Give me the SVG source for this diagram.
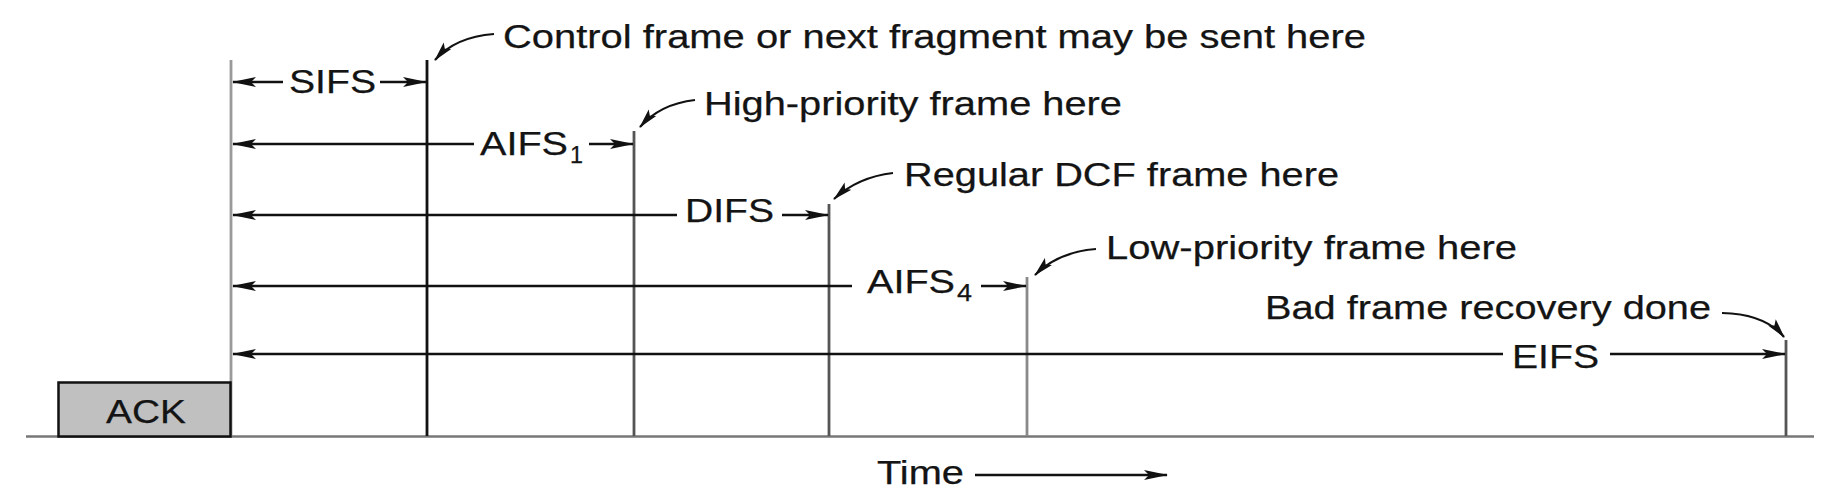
<svg xmlns="http://www.w3.org/2000/svg" width="1834" height="498" viewBox="0 0 1834 498">
  <defs>
    <style>
      .t { font-family: "Liberation Sans", Arial, sans-serif; font-size: 33px; fill: #141414; stroke: #141414; stroke-width: 0.25; }
      .sub { font-size: 23px; }
      .ln { stroke: #111; stroke-width: 2.5; fill: none; }
      .vl { stroke-width: 2.8; fill: none; }
      .co { stroke: #111; stroke-width: 2.2; fill: none; }
    </style>
    <marker id="ah" markerUnits="userSpaceOnUse" markerWidth="24" markerHeight="12" viewBox="0 0 24 12" refX="23" refY="6" orient="auto">
      <path d="M0,1 L24,6 L0,11 L5,6 z" fill="#111"/>
    </marker>
    <marker id="ahs" markerUnits="userSpaceOnUse" markerWidth="20" markerHeight="12" viewBox="0 0 20 12" refX="19" refY="6" orient="auto">
      <path d="M0,1 L20,6 L0,11 L4,6 z" fill="#111"/>
    </marker>
  </defs>
  <rect width="1834" height="498" fill="#fff"/>

  <g id="timeline">
    <line x1="26" y1="436.5" x2="1814" y2="436.5" stroke="#777" stroke-width="2.6"/>
    <line class="vl" x1="231" y1="60" x2="231" y2="436" stroke="#9a9a9a" stroke-width="3.4"/>
    <line class="vl" x1="427" y1="60" x2="427" y2="436" stroke="#111"/>
    <line class="vl" x1="634" y1="131" x2="634" y2="436" stroke="#555"/>
    <line class="vl" x1="829" y1="204" x2="829" y2="436" stroke="#555"/>
    <line class="vl" x1="1027" y1="277" x2="1027" y2="436" stroke="#8a8a8a"/>
    <line class="vl" x1="1786" y1="340" x2="1786" y2="436" stroke="#555"/>
  </g>

  <g id="ack">
    <rect x="58.5" y="382.5" width="172" height="54" fill="#c0c0c0" stroke="#111" stroke-width="2.5"/>
    <text class="t" x="106" y="423" textLength="80" lengthAdjust="spacingAndGlyphs">ACK</text>
  </g>

  <g id="sifs">
    <text class="t" x="289" y="93" textLength="87" lengthAdjust="spacingAndGlyphs">SIFS</text>
  </g>
  <g id="aifs1">
    <text class="t" x="480" y="155"><tspan textLength="88" lengthAdjust="spacingAndGlyphs">AIFS</tspan><tspan class="sub" x="570" y="163" textLength="13" lengthAdjust="spacingAndGlyphs">1</tspan></text>
  </g>
  <g id="difs">
    <text class="t" x="685" y="222" textLength="89" lengthAdjust="spacingAndGlyphs">DIFS</text>
  </g>
  <g id="aifs4">
    <text class="t" x="867" y="293"><tspan textLength="88" lengthAdjust="spacingAndGlyphs">AIFS</tspan><tspan class="sub" x="957" y="301" textLength="15" lengthAdjust="spacingAndGlyphs">4</tspan></text>
  </g>
  <g id="eifs">
    <text class="t" x="1512" y="368" textLength="87" lengthAdjust="spacingAndGlyphs">EIFS</text>
  </g>

  <g id="note-control">
    <text class="t" x="503" y="48" textLength="863" lengthAdjust="spacingAndGlyphs">Control frame or next fragment may be sent here</text>
  </g>
  <g id="note-high">
    <text class="t" x="704" y="115" textLength="418" lengthAdjust="spacingAndGlyphs">High-priority frame here</text>
  </g>
  <g id="note-regular">
    <text class="t" x="904" y="186" textLength="435" lengthAdjust="spacingAndGlyphs">Regular DCF frame here</text>
  </g>
  <g id="note-low">
    <text class="t" x="1106" y="259" textLength="411" lengthAdjust="spacingAndGlyphs">Low-priority frame here</text>
  </g>
  <g id="note-bad">
    <text class="t" x="1265" y="319" textLength="446" lengthAdjust="spacingAndGlyphs">Bad frame recovery done</text>
  </g>
  <g id="time">
    <text class="t" x="877" y="484" textLength="87" lengthAdjust="spacingAndGlyphs">Time</text>
  </g>

  <g id="connectors">
    <!-- SIFS -->
    <line class="ln" x1="283" y1="82" x2="233" y2="82" marker-end="url(#ah)"/>
    <line class="ln" x1="380" y1="82" x2="426" y2="82" marker-end="url(#ah)"/>
    <!-- AIFS1 -->
    <line class="ln" x1="474" y1="144" x2="233" y2="144" marker-end="url(#ah)"/>
    <line class="ln" x1="589" y1="144" x2="633" y2="144" marker-end="url(#ah)"/>
    <!-- DIFS -->
    <line class="ln" x1="677" y1="215" x2="233" y2="215" marker-end="url(#ah)"/>
    <line class="ln" x1="782" y1="215" x2="828" y2="215" marker-end="url(#ah)"/>
    <!-- AIFS4 -->
    <line class="ln" x1="852" y1="286" x2="233" y2="286" marker-end="url(#ah)"/>
    <line class="ln" x1="981" y1="286" x2="1026" y2="286" marker-end="url(#ah)"/>
    <!-- EIFS -->
    <line class="ln" x1="1503" y1="354" x2="233" y2="354" marker-end="url(#ah)"/>
    <line class="ln" x1="1610" y1="354" x2="1785" y2="354" marker-end="url(#ah)"/>
    <!-- Time -->
    <line class="ln" x1="975" y1="475" x2="1167" y2="475" marker-end="url(#ah)"/>
    <!-- callouts -->
    <path class="co" d="M494,34 Q455,37 435,60" marker-end="url(#ahs)"/>
    <path class="co" d="M695,100 Q660,104 640,127" marker-end="url(#ahs)"/>
    <path class="co" d="M893,173 Q858,177 834,199" marker-end="url(#ahs)"/>
    <path class="co" d="M1096,249 Q1058,252 1035,275" marker-end="url(#ahs)"/>
    <path class="co" d="M1722,313 Q1765,314 1784,337" marker-end="url(#ahs)"/>
  </g>
</svg>
